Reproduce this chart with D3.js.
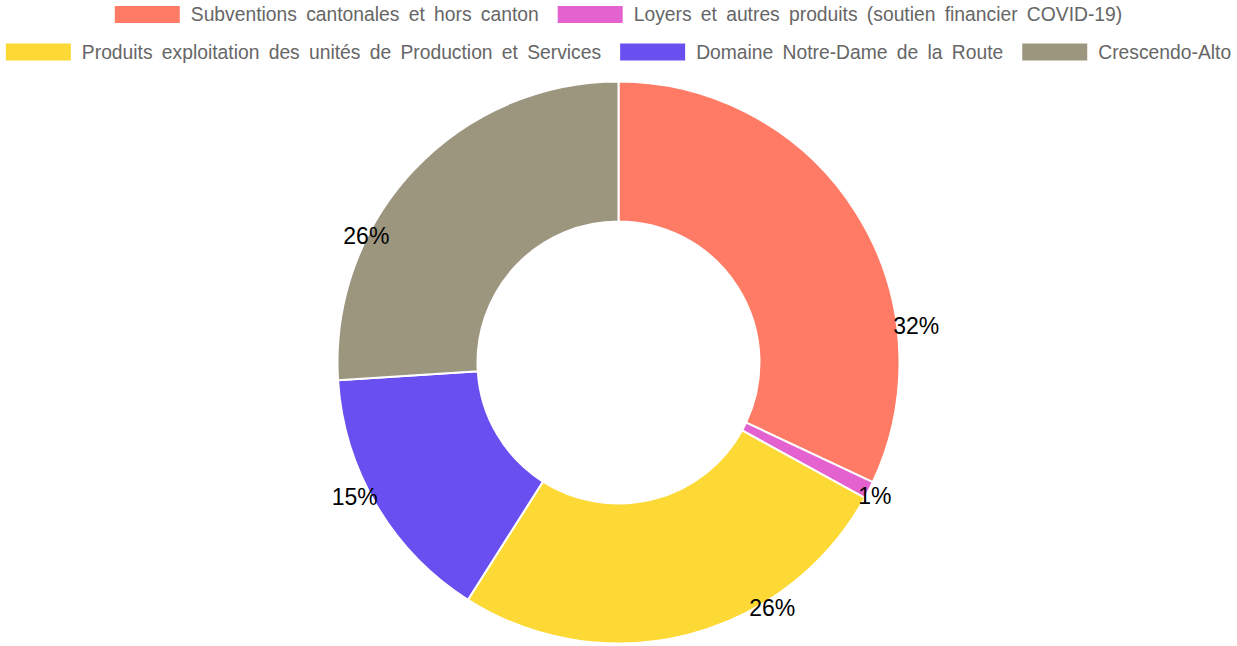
<!DOCTYPE html>
<html>
<head>
  <title>Donut produits</title>
  <style type="text/css">
    body { margin: 0; background: #fff; }
    svg { display: block; }
  </style>
</head>
<body>

<div id="chart"></div>

<script src="https://d3js.org/d3.v7.min.js"></script>
<script type="text/javascript">
var categories = [
  "Subventions cantonales et hors canton",
  "Loyers et autres produits (soutien financier COVID-19)",
  "Produits exploitation des unités de Production et Services",
  "Domaine Notre-Dame de la Route",
  "Crescendo-Alto"
];
var values = [32, 1, 26, 15, 26];
var colors = ["#ff7b65", "#e362d0", "#fdd935", "#6a4ff0", "#9c967e"];

var width = 1237, height = 646;
var cx = 618.5, cy = 362.5;
var outerR = 281, innerR = 141;

// where the plugin put the percent labels (degrees from top, radius)
var labelAngle = [83, 117.5, 148, 243, 296.6];
var labelRadius = [300, 289, 290, 296, 282];

var svg = d3.select("#chart")
  .append("svg")
  .attr("width", width)
  .attr("height", height);

var pie = d3.pie().sort(null).value(d => d);
var arcs = pie(values);

var arc = d3.arc()
  .innerRadius(innerR)
  .outerRadius(outerR);

var g = svg.append("g")
  .attr("transform", `translate(${cx},${cy})`);

g.selectAll("path")
  .data(arcs)
  .enter()
  .append("path")
  .attr("d", arc)
  .attr("fill", (d, i) => colors[i])
  .attr("stroke", "#fff")
  .attr("stroke-width", 2);

var total = d3.sum(values);
g.selectAll("text.lbl")
  .data(arcs)
  .enter()
  .append("text")
  .attr("class", "lbl")
  .attr("transform", (d, i) => {
    var a = labelAngle[i] * Math.PI / 180;
    var p = d3.arc().innerRadius(labelRadius[i]).outerRadius(labelRadius[i])
      .centroid({startAngle: a, endAngle: a});
    return `translate(${p[0]},${p[1]})`;
  })
  .attr("text-anchor", "middle")
  .attr("dominant-baseline", "central")
  .style("font-family", "'Liberation Sans', Arial, sans-serif")
  .style("font-size", "23px")
  .style("fill", "#000")
  .text(d => Math.round(d.value / total * 100) + "%");

// legend, wrapped into centered rows like chart.js does
var boxW = 65, boxH = 17, boxGap = 11, itemGap = 19, rowH = 37.5, firstRowY = 14.5;
var legend = svg.append("g");
var items = legend.selectAll("g")
  .data(categories)
  .enter()
  .append("g");

items.append("rect")
  .attr("width", boxW)
  .attr("height", boxH)
  .attr("y", -boxH / 2)
  .attr("fill", (d, i) => colors[i]);

items.append("text")
  .attr("x", boxW + boxGap)
  .attr("dominant-baseline", "central")
  .style("font-family", "'Liberation Sans', Arial, sans-serif")
  .style("font-size", "19.3px")
  .style("word-spacing", "3.9px")
  .style("fill", "#666")
  .text(d => d);

var rows = [[]], rowWidth = 0;
items.each(function(d, i) {
  var w = boxW + boxGap + this.querySelector("text").getBoundingClientRect().width;
  if (rows[rows.length - 1].length && rowWidth + itemGap + w > width - 4) {
    rows.push([]);
    rowWidth = 0;
  }
  rowWidth += (rows[rows.length - 1].length ? itemGap : 0) + w;
  rows[rows.length - 1].push({node: this, w: w});
});

rows.forEach((row, r) => {
  var tot = d3.sum(row, d => d.w) + itemGap * (row.length - 1);
  var x = cx - tot / 2;
  row.forEach(it => {
    d3.select(it.node).attr("transform", `translate(${x},${firstRowY + r * rowH})`);
    x += it.w + itemGap;
  });
});
</script>
</body>
</html>
